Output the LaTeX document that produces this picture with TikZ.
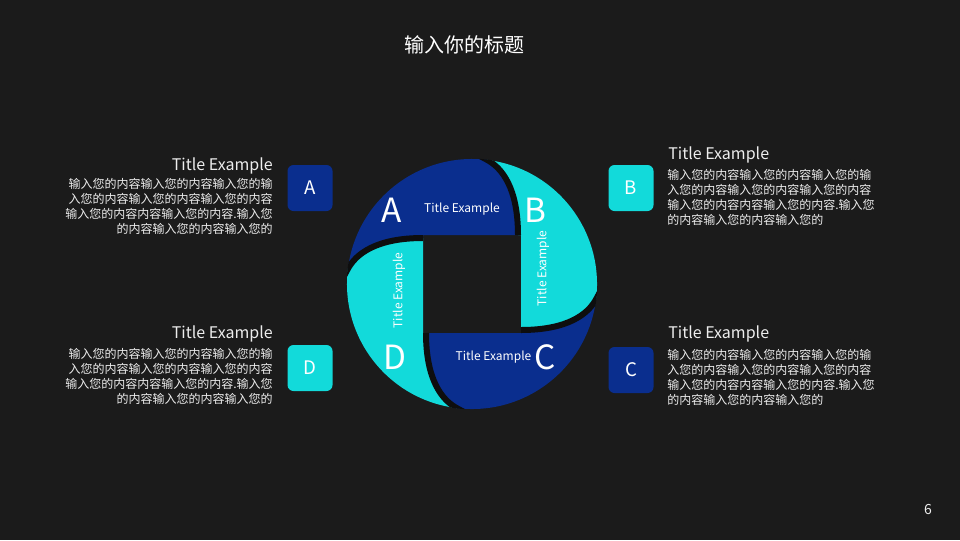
\documentclass[tikz,border=0pt]{standalone}
\usepackage{fontspec}
\setmainfont{Noto Sans CJK SC}
\definecolor{bg}{HTML}{1B1B1B}
\definecolor{navy}{HTML}{0A2E8E}
\definecolor{aqua}{HTML}{12DADA}
\definecolor{sepc}{HTML}{0E0E0E}
\definecolor{txt}{HTML}{EDEDED}
\tikzset{
  letterbox/.style={minimum width=33.75pt, minimum height=34.5pt, rounded corners=4.5pt, inner sep=0pt, text=white, font=\fontsize{14}{14}\selectfont},
  sidetitle/.style={inner sep=0pt, text=txt, font=\fontsize{12}{12}\selectfont},
  bodytext/.style={inner sep=0pt, text=txt, font=\fontsize{9}{11.25}\selectfont},
  bigletter/.style={inner sep=0pt, text=white, font=\fontsize{25}{25}\selectfont},
  wheeltext/.style={inner sep=0pt, text=white, font=\fontsize{9}{9}\selectfont},
  gapline/.style={sepc, line width=4.5pt}
}
\begin{document}
\begin{tikzpicture}[x=0.75pt,y=0.75pt]
\fill[bg] (0,0) rectangle (960,-540);
\useasboundingbox (0,0) rectangle (960,-540);

% title
\node[inner sep=0pt, text=white, font=\fontsize{15}{15}\selectfont] (title) at (464,-45) {输入你的标题};

% pinwheel
\begin{scope}[shift={(472,-284)}]
  \foreach \r/\c in {0/navy,-90/aqua,-180/navy,90/aqua}{
    \fill[\c, rotate=\r] (-49,46) -- (-49,49) -- (46,49)
      .. controls (46,96) and (30,116) .. (83:125)
      arc[start angle=83, end angle=173, radius=93.75pt]
      .. controls (-116,30) and (-96,46) .. (-49,46) -- cycle;
  }
  \begin{scope}
    \clip (0,0) circle[radius=94pt];
    \foreach \r in {0,-90,-180,90}{
      \draw[gapline, rotate=\r] (7.8,128.1) -- (83:125)
        .. controls (30,116) and (46,96) .. (46,49);
    }
  \end{scope}
\end{scope}

% labels in the wheel
\node[bigletter] (wa) at (392,-210) {A};
\node[bigletter] (wb) at (535,-210) {B};
\node[bigletter] (wc) at (545,-357) {C};
\node[bigletter] (wd) at (395,-357) {D};
\node[wheeltext] (ta) at (462,-209) {Title Example};
\node[wheeltext, rotate=90] (tb) at (543,-268.5) {Title Example};
\node[wheeltext] (tc) at (493.5,-357) {Title Example};
\node[wheeltext, rotate=90] (td) at (399,-290.5) {Title Example};

% side boxes
\node[letterbox, fill=navy] (ba) at (310,-188) {A};
\node[letterbox, fill=aqua] (bb) at (631,-188) {B};
\node[letterbox, fill=navy] (bc) at (631,-370) {C};
\node[letterbox, fill=aqua] (bd) at (310,-368) {D};

% side titles
\node[sidetitle, anchor=east] (sa) at (273,-166) {Title Example};
\node[sidetitle, anchor=west] (sb) at (668,-155) {Title Example};
\node[sidetitle, anchor=east] (sd) at (273,-334) {Title Example};
\node[sidetitle, anchor=west] (sc) at (668,-334) {Title Example};

% side bodies
\node[bodytext, anchor=north east, align=right] (pa) at (273,-178.5) {输入您的内容输入您的内容输入您的输\\入您的内容输入您的内容输入您的内容\\输入您的内容内容输入您的内容.输入您\\的内容输入您的内容输入您的};
\node[bodytext, anchor=north west, align=left] (pb) at (667,-169.2) {输入您的内容输入您的内容输入您的输\\入您的内容输入您的内容输入您的内容\\输入您的内容内容输入您的内容.输入您\\的内容输入您的内容输入您的};
\node[bodytext, anchor=north east, align=right] (pd) at (273,-348.5) {输入您的内容输入您的内容输入您的输\\入您的内容输入您的内容输入您的内容\\输入您的内容内容输入您的内容.输入您\\的内容输入您的内容输入您的};
\node[bodytext, anchor=north west, align=left] (pc) at (667,-349.2) {输入您的内容输入您的内容输入您的输\\入您的内容输入您的内容输入您的内容\\输入您的内容内容输入您的内容.输入您\\的内容输入您的内容输入您的};

% page number
\node[inner sep=0pt, text=txt, font=\fontsize{10.5}{10.5}\selectfont] (pg) at (928,-509) {6};
\end{tikzpicture}
\end{document}
